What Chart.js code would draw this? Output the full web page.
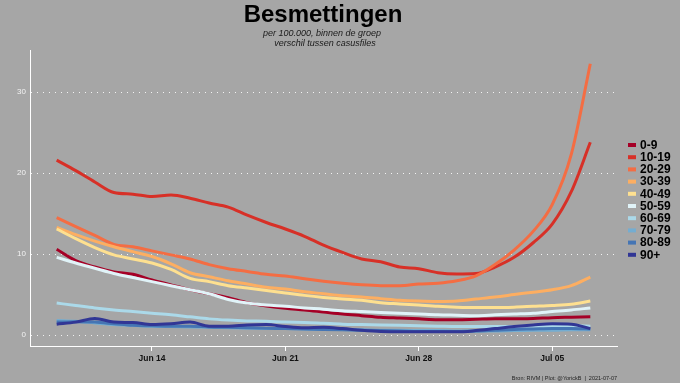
<!DOCTYPE html>
<html>
<head>
<meta charset="utf-8">
<script src="https://cdn.jsdelivr.net/npm/chart.js@4.4.1/dist/chart.umd.min.js"></script>
<style>
  html, body { margin: 0; padding: 0; background: #a6a6a6; }
  #wrap { width: 680px; height: 383px; position: relative; }
</style>
</head>
<body>
<div id="wrap"><canvas id="c" width="680" height="383"></canvas></div>
<script>
// ---- data ----
const dates = ['2021-06-09','2021-06-10','2021-06-11','2021-06-12','2021-06-13','2021-06-14','2021-06-15',
  '2021-06-16','2021-06-17','2021-06-18','2021-06-19','2021-06-20','2021-06-21','2021-06-22','2021-06-23',
  '2021-06-24','2021-06-25','2021-06-26','2021-06-27','2021-06-28','2021-06-29','2021-06-30','2021-07-01',
  '2021-07-02','2021-07-03','2021-07-04','2021-07-05','2021-07-06','2021-07-07'];
const groups = ['0-9','10-19','20-29','30-39','40-49','50-59','60-69','70-79','80-89','90+'];
const age0_9   = [10.6, 9.2, 8.4, 7.8, 7.5, 6.8, 6.2, 5.6, 5.1, 4.6, 4.0, 3.6, 3.3, 3.1, 2.85, 2.6, 2.4, 2.2, 2.1, 2.0, 1.9, 1.9, 1.95, 2.0, 2.0, 2.05, 2.15, 2.2, 2.25];
const age10_19 = [21.6, 20.3, 18.9, 17.6, 17.4, 17.1, 17.3, 16.9, 16.3, 15.8, 14.8, 13.9, 13.1, 12.2, 11.1, 10.2, 9.4, 9.05, 8.4, 8.2, 7.7, 7.55, 7.6, 8.4, 9.6, 11.4, 13.7, 17.7, 23.8];
const age20_29 = [14.5, 13.4, 12.3, 11.2, 10.9, 10.4, 9.9, 9.4, 8.7, 8.2, 7.85, 7.5, 7.3, 6.95, 6.65, 6.4, 6.2, 6.1, 6.1, 6.3, 6.4, 6.7, 7.3, 8.7, 10.5, 12.8, 16.1, 22.3, 33.5];
const age30_39 = [13.3, 12.4, 11.6, 10.9, 10.3, 9.7, 8.8, 7.7, 7.2, 6.7, 6.3, 5.9, 5.7, 5.35, 5.1, 4.85, 4.7, 4.5, 4.3, 4.2, 4.15, 4.2, 4.45, 4.7, 5.0, 5.3, 5.6, 6.1, 7.15];
const age40_49 = [13.1, 11.9, 10.8, 9.9, 9.4, 8.9, 8.1, 7.0, 6.6, 6.1, 5.8, 5.5, 5.2, 4.9, 4.65, 4.45, 4.3, 4.0, 3.85, 3.7, 3.55, 3.45, 3.4, 3.4, 3.45, 3.55, 3.65, 3.8, 4.2];
const age50_59 = [9.6, 8.9, 8.25, 7.6, 7.1, 6.6, 6.1, 5.6, 5.1, 4.4, 3.95, 3.7, 3.55, 3.35, 3.2, 3.0, 2.9, 2.8, 2.7, 2.6, 2.5, 2.45, 2.4, 2.5, 2.6, 2.7, 2.9, 3.1, 3.35];
const age60_69 = [3.95, 3.65, 3.35, 3.1, 2.9, 2.7, 2.5, 2.25, 2.0, 1.85, 1.75, 1.7, 1.6, 1.55, 1.45, 1.35, 1.3, 1.25, 1.2, 1.15, 1.1, 1.05, 1.05, 1.05, 1.05, 1.1, 1.1, 1.15, 1.1];
const age70_79 = [1.8, 1.7, 1.5, 1.3, 1.2, 1.1, 1.05, 1.0, 0.95, 0.9, 0.85, 0.8, 0.8, 0.75, 0.7, 0.7, 0.65, 0.6, 0.6, 0.55, 0.55, 0.5, 0.5, 0.5, 0.55, 0.6, 0.6, 0.65, 0.65];
const age80_89 = [1.6, 1.65, 1.6, 1.4, 1.2, 1.15, 1.1, 1.1, 1.0, 0.95, 0.9, 0.85, 0.8, 0.75, 0.7, 0.65, 0.6, 0.55, 0.5, 0.45, 0.45, 0.45, 0.5, 0.6, 0.7, 0.75, 0.8, 0.8, 0.75];
const age90p   = [1.35, 1.6, 2.05, 1.6, 1.55, 1.3, 1.4, 1.6, 1.1, 1.1, 1.25, 1.3, 1.05, 0.9, 0.95, 0.8, 0.6, 0.45, 0.4, 0.4, 0.4, 0.4, 0.55, 0.8, 1.05, 1.25, 1.4, 1.35, 0.8];
const seriesValues = [age0_9, age10_19, age20_29, age30_39, age40_49, age50_59, age60_69, age70_79, age80_89, age90p];
const colors = ['#a50026','#d73027','#f46d43','#fdae61','#fee090','#e0f3f8','#abd9e9','#74add1','#4575b4','#313695'];
const tickDates = ['2021-06-14','2021-06-21','2021-06-28','2021-07-05'];
const tickLabels = ['Jun 14','Jun 21','Jun 28','Jul 05'];
const yTicks = [0, 10, 20, 30];

const titleText = 'Besmettingen';
const subtitleLines = ['per 100.000, binnen de groep', 'verschil tussen casusfiles'];
const captionText = 'Bron: RIVM | Plot: @YorickB  |  2021-07-07';

// ---- helpers ----
const DAY = 86400000;
const t0 = Date.UTC(2021, 5, 9);
const dayNum = s => (Date.parse(s + 'T00:00:00Z') - t0) / DAY;
const xs = dates.map(dayNum);
const tickPos = tickDates.map(dayNum);
const xMin = xs[0] - 0.05 * (xs[xs.length - 1] - xs[0]);
const xMax = xs[xs.length - 1] + 0.05 * (xs[xs.length - 1] - xs[0]);

const datasets = groups.map((g, i) => ({
  label: g,
  data: seriesValues[i].map((v, k) => ({ x: xs[k], y: v })),
  borderColor: colors[i],
  backgroundColor: colors[i],
  borderWidth: 3,
  pointRadius: 0,
  cubicInterpolationMode: 'monotone',
  fill: false,
  order: groups.length - i,
  borderCapStyle: 'butt',
  borderJoinStyle: 'round'
}));

const BG = '#a6a6a6';
const decor = {
  id: 'decor',
  beforeDraw(chart) {
    const ctx = chart.ctx;
    ctx.save();
    ctx.fillStyle = BG;
    ctx.fillRect(0, 0, chart.width, chart.height);
    ctx.restore();
  },
  afterDraw(chart) {
    const ctx = chart.ctx;
    ctx.save();
    // title
    ctx.fillStyle = '#000';
    ctx.textAlign = 'center';
    ctx.textBaseline = 'alphabetic';
    ctx.font = 'bold 24px "Liberation Sans", Arial, sans-serif';
    ctx.fillText(titleText, 323, 22);
    // subtitle
    ctx.fillStyle = '#1a1a1a';
    ctx.font = 'italic 9px "Liberation Sans", Arial, sans-serif';
    ctx.fillText(subtitleLines[0], 322, 36);
    ctx.fillText(subtitleLines[1], 325, 46);
    // legend
    const lx = 628, ly0 = 145, step = 12.2;
    ctx.textAlign = 'left';
    ctx.textBaseline = 'middle';
    ctx.font = 'bold 12px "Liberation Sans", Arial, sans-serif';
    chart.data.datasets.forEach((ds, i) => {
      const y = ly0 + i * step;
      ctx.fillStyle = ds.borderColor;
      ctx.fillRect(lx, y - 2, 8, 4);
      ctx.fillStyle = '#000';
      ctx.fillText(ds.label, lx + 12, y + 0.5);
    });
    // caption
    ctx.textAlign = 'right';
    ctx.textBaseline = 'alphabetic';
    ctx.font = '5.5px "Liberation Sans", Arial, sans-serif';
    ctx.fillStyle = '#222';
    ctx.fillText(captionText, 617, 380);
    ctx.restore();
  }
};

new Chart(document.getElementById('c'), {
  type: 'line',
  data: { datasets },
  options: {
    responsive: false,
    animation: false,
    devicePixelRatio: 1,
    layout: { padding: { left: 0, right: 63, top: 50, bottom: 0 } },
    plugins: { legend: { display: false }, tooltip: { enabled: false }, title: { display: false } },
    scales: {
      x: {
        type: 'linear',
        min: xMin, max: xMax,
        afterBuildTicks: s => { s.ticks = tickPos.map(v => ({ value: v })); },
        afterFit: s => { s.height = 37; },
        ticks: {
          callback: (v) => { const k = tickPos.indexOf(v); return k >= 0 ? tickLabels[k] : ''; },
          color: '#111', font: { family: '"Liberation Sans", Arial, sans-serif', size: 8.5, weight: 'bold' },
          padding: 3, maxRotation: 0, autoSkip: false
        },
        grid: { display: true, drawOnChartArea: false, drawTicks: true, tickLength: 5, color: '#ffffff', lineWidth: 1 },
        border: { display: true, color: '#ffffff', width: 1 }
      },
      y: {
        type: 'linear',
        min: -1.35, max: 35.2,
        afterBuildTicks: s => { s.ticks = yTicks.map(v => ({ value: v })); },
        afterFit: s => { s.width = 30; },
        ticks: {
          color: '#f2f2f2', font: { family: '"Liberation Sans", Arial, sans-serif', size: 8 },
          padding: 4
        },
        grid: { display: true, drawOnChartArea: true, drawTicks: false, color: 'rgba(255,255,255,0.85)', lineWidth: 1 },
        border: { display: true, color: '#ffffff', width: 1, dash: [1, 5] }
      }
    }
  },
  plugins: [decor]
});
</script>
</body>
</html>
